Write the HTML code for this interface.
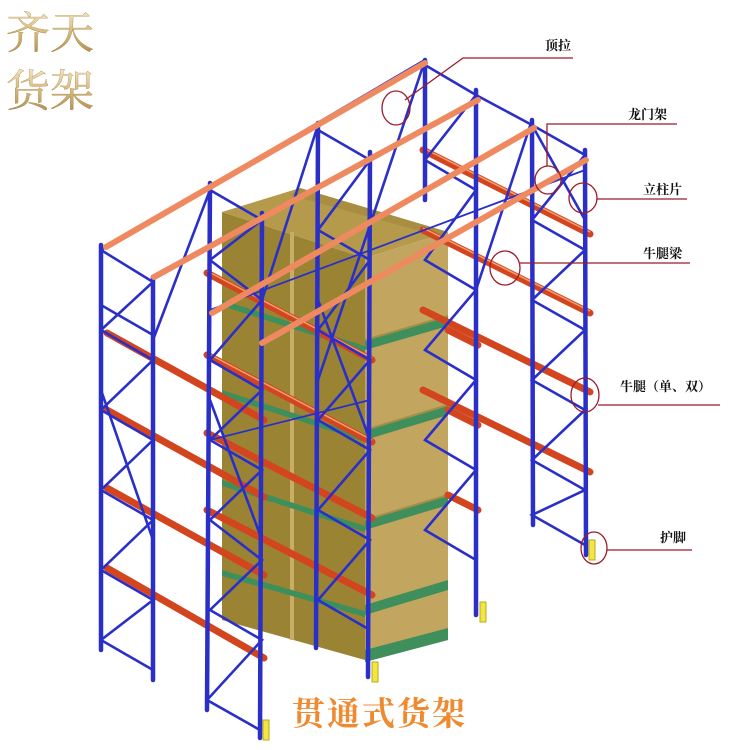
<!DOCTYPE html>
<html><head><meta charset="utf-8"><style>
html,body{margin:0;padding:0;background:#fff}
svg{display:block}
.cn{font-family:"Liberation Sans","Noto Serif CJK SC","Noto Sans CJK SC",serif}
</style></head><body>
<svg width="750" height="750" viewBox="0 0 750 750" xmlns="http://www.w3.org/2000/svg">
<defs>
<linearGradient id="gold" x1="0" y1="0" x2="0" y2="1">
<stop offset="0" stop-color="#f6e9c4"/><stop offset="0.5" stop-color="#d6b777"/><stop offset="1" stop-color="#a8884a"/>
</linearGradient>
</defs>
<rect width="750" height="750" fill="#fff"/>

<g>
<polygon points="222,212 365,258 365,660 222,620" fill="#9a8434"/>
<polygon points="365,258 448,232 448,640 365,662" fill="#c2a55e"/>
<polygon points="222,212 300,188 448,232 365,258" fill="#b49a4a"/>
<polygon points="290,195 300,188 448,232 438,236" fill="#a88e40"/>
<line x1="292" y1="232" x2="292" y2="640" stroke="#c8ad68" stroke-width="4"/>
<g fill="#3f8f5c">
<polygon points="365,340 448,316 448,326 365,350"/>
<polygon points="365,430 448,405 448,415 365,440"/>
<polygon points="365,520 448,495 448,505 365,530"/>
<polygon points="365,605 448,580 448,590 365,615"/>
<polygon points="365,650 448,628 448,640 365,662"/>
<polygon points="222,300 365,346 365,352 222,306"/>
<polygon points="222,390 365,436 365,442 222,396"/>
<polygon points="222,480 365,526 365,532 222,486"/>
<polygon points="222,570 365,611 365,617 222,576"/>
</g>
<g stroke="#a48e48" stroke-width="2">
<line x1="365" y1="340" x2="448" y2="316"/>
<line x1="365" y1="430" x2="448" y2="405"/>
<line x1="365" y1="520" x2="448" y2="495"/>
</g>
</g>

<g stroke="#d2451f" stroke-width="7" stroke-linecap="round">
<line x1="423" y1="150" x2="590" y2="234"/>
<line x1="423" y1="230" x2="590" y2="313"/>
<line x1="423" y1="310" x2="590" y2="392"/>
<line x1="423" y1="390" x2="590" y2="472"/>
<line x1="448" y1="330" x2="478" y2="345"/>
<line x1="448" y1="410" x2="478" y2="425"/>
<line x1="448" y1="495" x2="478" y2="510"/>
<line x1="207" y1="273" x2="372" y2="360"/>
<line x1="207" y1="355" x2="372" y2="442"/>
<line x1="207" y1="433" x2="372" y2="518"/>
<line x1="207" y1="510" x2="372" y2="595"/>
<line x1="107" y1="333" x2="264" y2="420"/>
<line x1="107" y1="410" x2="264" y2="497"/>
<line x1="107" y1="488" x2="264" y2="575"/>
<line x1="107" y1="568" x2="264" y2="658"/>
</g>
<g stroke="#f0a070" stroke-width="1.5">
<line x1="423" y1="148" x2="590" y2="232"/>
<line x1="423" y1="228" x2="590" y2="311"/>
<line x1="207" y1="271" x2="372" y2="358"/>
<line x1="207" y1="353" x2="372" y2="440"/>
</g>

<g stroke="#2a2fc8" stroke-width="4.5" stroke-linecap="round" fill="none">
<line x1="101" y1="245" x2="101" y2="650"/>
<line x1="153" y1="277" x2="153" y2="680"/>
<line x1="210" y1="183" x2="207" y2="710"/>
<line x1="262" y1="213" x2="260" y2="738"/>
<line x1="318" y1="123" x2="316" y2="648"/>
<line x1="370" y1="152" x2="368" y2="677"/>
<line x1="425" y1="60" x2="425" y2="200"/>
<line x1="476" y1="90" x2="476" y2="615"/>
<line x1="532" y1="120" x2="533" y2="525"/>
<line x1="585" y1="150" x2="586" y2="555"/>
</g>
<g stroke="#2a2fc8" stroke-width="2.6" fill="none">
<polyline points="101,250 153,282 101,330 153,360 101,410 153,440 101,490 153,520 101,570 153,600 101,640 153,670"/>
<line x1="101" y1="305" x2="153" y2="335"/>
<polyline points="210,190 262,220 210,260 262,300 210,360 262,390 210,440 262,470 210,520 262,560 210,610 262,640 207,700 260,730"/>
<polyline points="318,130 370,160 318,230 370,260 318,330 370,360 318,420 370,450 318,510 370,540 318,600 370,630"/>
<polyline points="425,65 476,95 425,160 476,190 425,260 476,290 425,350 476,380 425,440 476,470 425,530 476,560"/>
<polyline points="532,125 585,155 532,220 585,250 532,300 585,330 532,380 585,410 532,460 585,490 532,515 585,545"/>
<line x1="425" y1="60" x2="370" y2="225"/>
<line x1="370" y1="225" x2="318" y2="380"/>
<line x1="318" y1="125" x2="262" y2="300"/>
<line x1="210" y1="190" x2="153" y2="340"/>
<line x1="101" y1="390" x2="153" y2="540"/>
<line x1="532" y1="120" x2="476" y2="290"/>
<line x1="532" y1="125" x2="585" y2="220"/>
<line x1="210" y1="400" x2="262" y2="540"/>
<line x1="318" y1="300" x2="370" y2="440"/>
<line x1="101" y1="250" x2="425" y2="60"/>
<line x1="210" y1="310" x2="585" y2="170" stroke-width="1.8"/>
<line x1="153" y1="280" x2="476" y2="100" stroke-width="1.8"/>
<line x1="210" y1="440" x2="370" y2="400" stroke-width="1.8"/>
<line x1="476" y1="95" x2="532" y2="125"/>
</g>

<g stroke="#ef8a60" stroke-width="6" stroke-linecap="round">
<line x1="106" y1="247" x2="425" y2="63"/>
<line x1="154" y1="277" x2="478" y2="100"/>
<line x1="212" y1="313" x2="534" y2="128"/>
<line x1="262" y1="343" x2="586" y2="160"/>
</g>

<g fill="#f2e640" stroke="#b8a820" stroke-width="1">
<rect x="263" y="720" width="6" height="20"/>
<rect x="372" y="662" width="6" height="20"/>
<rect x="480" y="602" width="6" height="20"/>
<rect x="589" y="540" width="6" height="20"/>
</g>

<g stroke="#9a1b2a" stroke-width="1.3" fill="none">
<polyline points="573,58 463,58 405,100"/>
<ellipse cx="396" cy="108" rx="14" ry="17"/>
<polyline points="677,124 547,124 547,166"/>
<ellipse cx="548" cy="180" rx="13" ry="14"/>
<polyline points="687,199 597,199"/>
<ellipse cx="583" cy="198" rx="14" ry="15"/>
<polyline points="690,263 520,263"/>
<ellipse cx="505" cy="268" rx="15" ry="17"/>
<polyline points="720,405 598,405"/>
<ellipse cx="585" cy="395" rx="14" ry="17"/>
<polyline points="692,550 607,550"/>
<ellipse cx="594" cy="548" rx="13" ry="16"/>
</g>
<g class="cn" font-size="13" font-weight="bold" fill="#111">
<text x="545" y="50">顶拉</text>
<text x="628" y="119">龙门架</text>
<text x="643" y="194">立柱片</text>
<text x="643" y="258">牛腿梁</text>
<text x="620" y="391">牛腿（单、双）</text>
<text x="660" y="542">护脚</text>
</g>

<g class="cn" font-size="44" fill="url(#gold)" stroke="#9a7a40" stroke-width="0.3">
<text x="6" y="48">齐天</text>
<text x="6" y="106">货架</text>
</g>
<text x="292" y="725" class="cn" font-size="33" font-weight="bold" fill="#f08a30" letter-spacing="2">贯通式货架</text>
</svg>
</body></html>
